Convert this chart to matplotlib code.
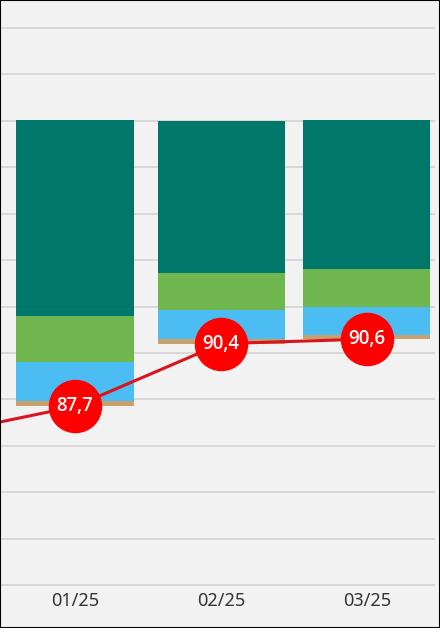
import matplotlib.pyplot as plt
import numpy as np
from matplotlib.patches import Rectangle

# data (first month only shows as the start of the line)
months = ['12/24', '01/25', '02/25', '03/25']
rate = [86.4, 87.7, 90.4, 90.6]
tan = [0.25, 0.2, 0.18]
blue = [1.65, 1.25, 1.22]
green = [2.0, 1.6, 1.62]
teal = [8.4, 6.55, 6.38]

c_teal = '#00776b'
c_green = '#70b64f'
c_blue = '#4bbdf2'
c_tan = '#c9a06c'
c_red = '#ff0000'
c_line = '#d8141c'
bg = '#f2f2f2'

fig = plt.figure(figsize=(4.4, 6.28), dpi=100, facecolor=bg)
ax = fig.add_axes([0, (628 - 585.5) / 628, 435 / 440, 585.5 / 628])
ax.set_facecolor(bg)

x = np.arange(len(months)) - 1
xb = x[1:]
widths = [0.81, 0.87, 0.87]
bottom = np.array(rate[1:], dtype=float)
for vals, col in [(tan, c_tan), (blue, c_blue), (green, c_green), (teal, c_teal)]:
    ax.bar(xb, vals, width=widths, bottom=bottom, color=col, zorder=2)
    bottom = bottom + np.array(vals)

ax.plot(x, rate, color=c_line, lw=2.2, zorder=3)
ax.plot(x[1:], rate[1:], 'o', ms=37.5, color=c_red, mec=c_red, zorder=4)
for xi, v in zip(x[1:], rate[1:]):
    ax.text(xi, v, f'{v:.1f}'.replace('.', ','), color='white', fontsize=13.5,
            fontweight='semibold', family='Open Sans', ha='center', va='center', zorder=5)

ax.set_ylim(80, 80 + 585.5 / 23.25)
ax.set_xlim(-0.514, 2.466)
ax.set_yticks(np.arange(80, 106, 2))
ax.set_yticklabels([])
ax.yaxis.grid(True, color='#d3d3d3', lw=1.2, zorder=0)
ax.set_axisbelow(True)
ax.set_xticks(x[1:])
ax.set_xticklabels(months[1:], fontsize=13, color='#333333', family='Noto Sans')
ax.tick_params(length=0, pad=5)
ax.tick_params(axis='y', left=False)
for s in ax.spines.values():
    s.set_visible(False)

fig.patches.append(Rectangle((0, 0), 1, 1, transform=fig.transFigure, fill=False,
                             edgecolor='black', lw=1.5, zorder=10))

fig.savefig('out.png', dpi=100, facecolor=bg)
